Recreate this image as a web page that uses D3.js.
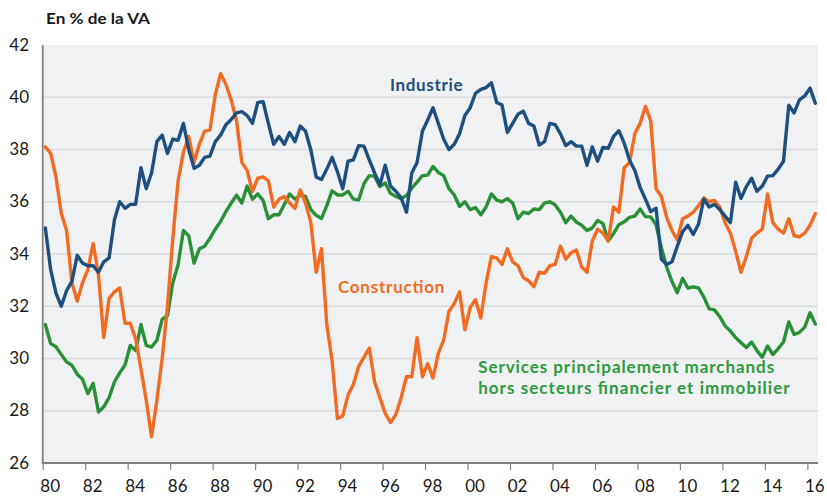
<!DOCTYPE html>
<html><head><meta charset="utf-8">
<script src="https://cdn.jsdelivr.net/npm/d3@7"></script>
<style>
html,body{margin:0;padding:0;background:#fff;}
svg{display:block;font-family:Lato,"Open Sans",sans-serif;}
</style></head>
<body><svg id="chart" width="827" height="497"></svg>
<script>
const startYear = 1980; // quarterly data, 1980Q1 .. 2016Q2
const industrie = [35.0,33.4,32.5,32.0,32.6,32.95,33.95,33.65,33.55,33.55,
33.3,33.7,33.85,35.3,36.0,35.75,35.9,35.9,37.3,36.5,
37.1,38.3,38.55,37.85,38.4,38.35,39.0,38.0,37.28,37.4,
37.7,37.75,38.3,38.55,38.95,39.15,39.4,39.45,39.3,39.0,
39.8,39.83,39.0,38.2,38.5,38.2,38.65,38.3,38.9,38.7,
37.98,36.95,36.85,37.25,37.7,37.15,36.5,37.55,37.6,38.15,
38.13,37.6,37.1,36.65,37.4,36.6,36.4,36.15,35.6,37.1,
37.5,38.7,39.13,39.6,39.0,38.4,38.0,38.2,38.6,39.3,
39.6,40.15,40.3,40.37,40.55,39.8,39.7,38.65,39.0,39.35,
39.47,39.0,38.9,38.17,38.3,39.0,38.95,38.6,38.15,38.3,
38.13,38.13,37.4,38.1,37.55,38.08,38.05,38.5,38.72,38.25,
37.6,37.2,36.55,36.1,35.62,35.75,33.8,33.6,33.7,34.3,
34.85,35.1,34.75,35.15,36.1,35.8,35.9,35.7,35.45,35.2,
36.75,36.13,36.58,36.9,36.4,36.6,36.98,37.0,37.25,37.55,
39.7,39.4,39.9,40.05,40.35,39.77];
const construction = [38.1,37.85,36.95,35.55,34.9,32.9,32.2,32.9,33.4,34.4,
33.2,30.8,32.3,32.55,32.7,31.35,31.35,30.75,29.6,28.4,
27.0,28.4,30.0,32.0,34.6,36.8,37.9,38.5,37.5,38.2,
38.7,38.75,40.1,40.9,40.5,39.9,39.1,37.5,37.2,36.4,
36.9,36.95,36.8,35.8,36.1,36.2,35.95,35.75,36.45,35.95,
35.2,33.3,34.2,31.3,29.9,27.7,27.8,28.6,29.0,29.7,
30.05,30.4,29.1,28.5,27.9,27.55,27.85,28.5,29.3,29.3,
30.8,29.3,29.8,29.25,30.2,30.7,31.8,32.1,32.55,31.1,
31.95,32.25,31.55,32.9,33.9,33.85,33.6,34.2,33.7,33.55,
33.1,32.97,32.75,33.3,33.26,33.55,33.6,34.3,33.8,34.05,
34.15,33.5,33.3,34.5,34.95,34.8,34.5,35.8,35.6,37.3,
37.5,38.6,39.0,39.65,39.1,36.5,36.2,35.4,34.9,34.55,
35.35,35.45,35.6,35.85,36.15,36.0,36.05,35.8,35.2,34.8,
34.1,33.3,33.9,34.6,34.8,34.95,36.3,35.2,34.95,34.8,
35.35,34.7,34.66,34.8,35.1,35.55];
const services = [31.3,30.57,30.45,30.15,29.87,29.74,29.4,29.2,28.65,29.05,
27.95,28.15,28.5,29.1,29.45,29.75,30.5,30.3,31.3,30.5,
30.44,30.7,31.5,31.65,32.9,33.6,34.9,34.7,33.65,34.2,
34.3,34.6,34.95,35.25,35.62,35.95,36.25,35.95,36.6,36.1,
36.3,36.05,35.35,35.5,35.5,35.9,36.3,36.1,36.25,36.2,
35.7,35.48,35.36,35.85,36.42,36.26,36.26,36.4,36.1,36.07,
36.7,37.0,36.97,36.58,36.72,36.32,36.2,36.12,36.24,36.52,
36.75,37.0,37.02,37.35,37.12,37.0,36.5,36.26,35.82,36.0,
35.7,35.78,35.5,35.8,36.3,36.06,36.0,36.12,35.95,35.35,
35.6,35.55,35.72,35.7,35.95,36.0,35.88,35.6,35.2,35.45,
35.22,35.1,34.9,35.0,35.28,35.17,34.5,34.78,35.12,35.23,
35.4,35.45,35.72,35.43,35.42,35.12,34.25,33.5,32.95,32.52,
33.07,32.7,32.74,32.7,32.35,31.9,31.86,31.6,31.25,31.05,
30.8,30.6,30.42,30.63,30.3,30.05,30.48,30.15,30.38,30.63,
31.4,30.92,31.0,31.2,31.75,31.32];
const yTicks = [26,28,30,32,34,36,38,40,42];
const xTickYears = d3.range(1980, 2017, 2);
const xTickLabels = ["80","82","84","86","88","90","92","94","96","98","00","02","04","06","08","10","12","14","16"];
const titleText = "En % de la VA";
const seriesLabels = {
  industrie: ["Industrie"],
  construction: ["Construction"],
  services: ["Services principalement marchands", "hors secteurs financier et immobilier"]
};

const colors = {industrie:"#1d4f7f", construction:"#f26b22", services:"#2a9038"};
const textColors = {industrie:"#1d4f7f", construction:"#f26b22", services:"#2e9a40"};

const W = 827, H = 497;
const m = {left:42.7, right:818, top:45, bottom:463};
const svg = d3.select("#chart");

const x = d3.scaleLinear().domain([1980, 2016.5]).range([m.left, m.right]);
const y = d3.scaleLinear().domain([26, 42]).range([m.bottom, m.top]);

// background
svg.append("rect").attr("x", m.left).attr("y", m.top)
  .attr("width", m.right - m.left).attr("height", m.bottom - m.top)
  .attr("fill", "#f0f1f3");

// gridlines
svg.append("g").selectAll("line").data(yTicks.filter(d => d > 26 && d < 42)).join("line")
  .attr("x1", m.left).attr("x2", m.right)
  .attr("y1", d => y(d)).attr("y2", d => y(d))
  .attr("stroke", "#d9dadc").attr("stroke-width", 1.3);

// y tick labels
svg.append("g").selectAll("text").data(yTicks).join("text")
  .attr("x", 29).attr("y", d => y(d) - 1)
  .attr("text-anchor", "end").attr("dominant-baseline", "central")
  .attr("font-size", 17).attr("fill", "#1a1a1a")
  .text(d => d);

// x axis
const xAxis = d3.axisBottom(x).tickValues(xTickYears).tickSize(7).tickFormat("");
const gx = svg.append("g").attr("transform", `translate(0,${m.bottom})`).call(xAxis);
gx.select(".domain").remove();
gx.selectAll(".tick line").attr("stroke", "#7f7f7f").attr("stroke-width", 1.2);
svg.append("g").selectAll("text").data(xTickYears).join("text")
  .attr("x", d => x(d) + 7.5).attr("y", 492)
  .attr("text-anchor", "middle").attr("font-size", 17).attr("fill", "#1a1a1a")
  .text((d, i) => xTickLabels[i]);

// axis lines
svg.append("line").attr("x1", m.left).attr("x2", m.left).attr("y1", m.top).attr("y2", m.bottom + 1)
  .attr("stroke", "#7f7f7f").attr("stroke-width", 1.8);
svg.append("line").attr("x1", m.left - 1).attr("x2", m.right).attr("y1", m.bottom).attr("y2", m.bottom)
  .attr("stroke", "#7f7f7f").attr("stroke-width", 1.8);

// lines
const line = d3.line().x((d, i) => x(startYear + (i + 0.5) / 4)).y(d => y(d)).curve(d3.curveLinear);
const plot = svg.append("g");
[["services", services], ["construction", construction], ["industrie", industrie]].forEach(([k, arr]) => {
  plot.append("path").datum(arr).attr("d", line)
    .attr("fill", "none").attr("stroke", colors[k]).attr("stroke-width", 3.4)
    .attr("stroke-linejoin", "round").attr("stroke-linecap", "round");
});

// title
svg.append("text").attr("x", 46).attr("y", 24).attr("font-size", 15).attr("font-weight", 700)
  .attr("fill", "#1a1a1a").attr("textLength", 104).attr("lengthAdjust", "spacingAndGlyphs").text(titleText);

// series labels (positioned in data space)
const labelPos = [
  {k:"industrie", t:1996.35, v:40.25, len:[72.5]},
  {k:"construction", t:1993.9, v:32.5, len:[106.5]},
  {k:"services", t:2000.5, v:29.46, len:[296, 311.5], dy:21.6}
];
labelPos.forEach(p => {
  seriesLabels[p.k].forEach((s, j) => {
    svg.append("text").attr("x", x(p.t)).attr("y", y(p.v) + j * (p.dy || 0))
      .attr("font-size", 17).attr("font-weight", 700).attr("fill", textColors[p.k])
      .attr("textLength", p.len[j]).attr("lengthAdjust", "spacing")
      .text(s);
  });
});
</script></body></html>
